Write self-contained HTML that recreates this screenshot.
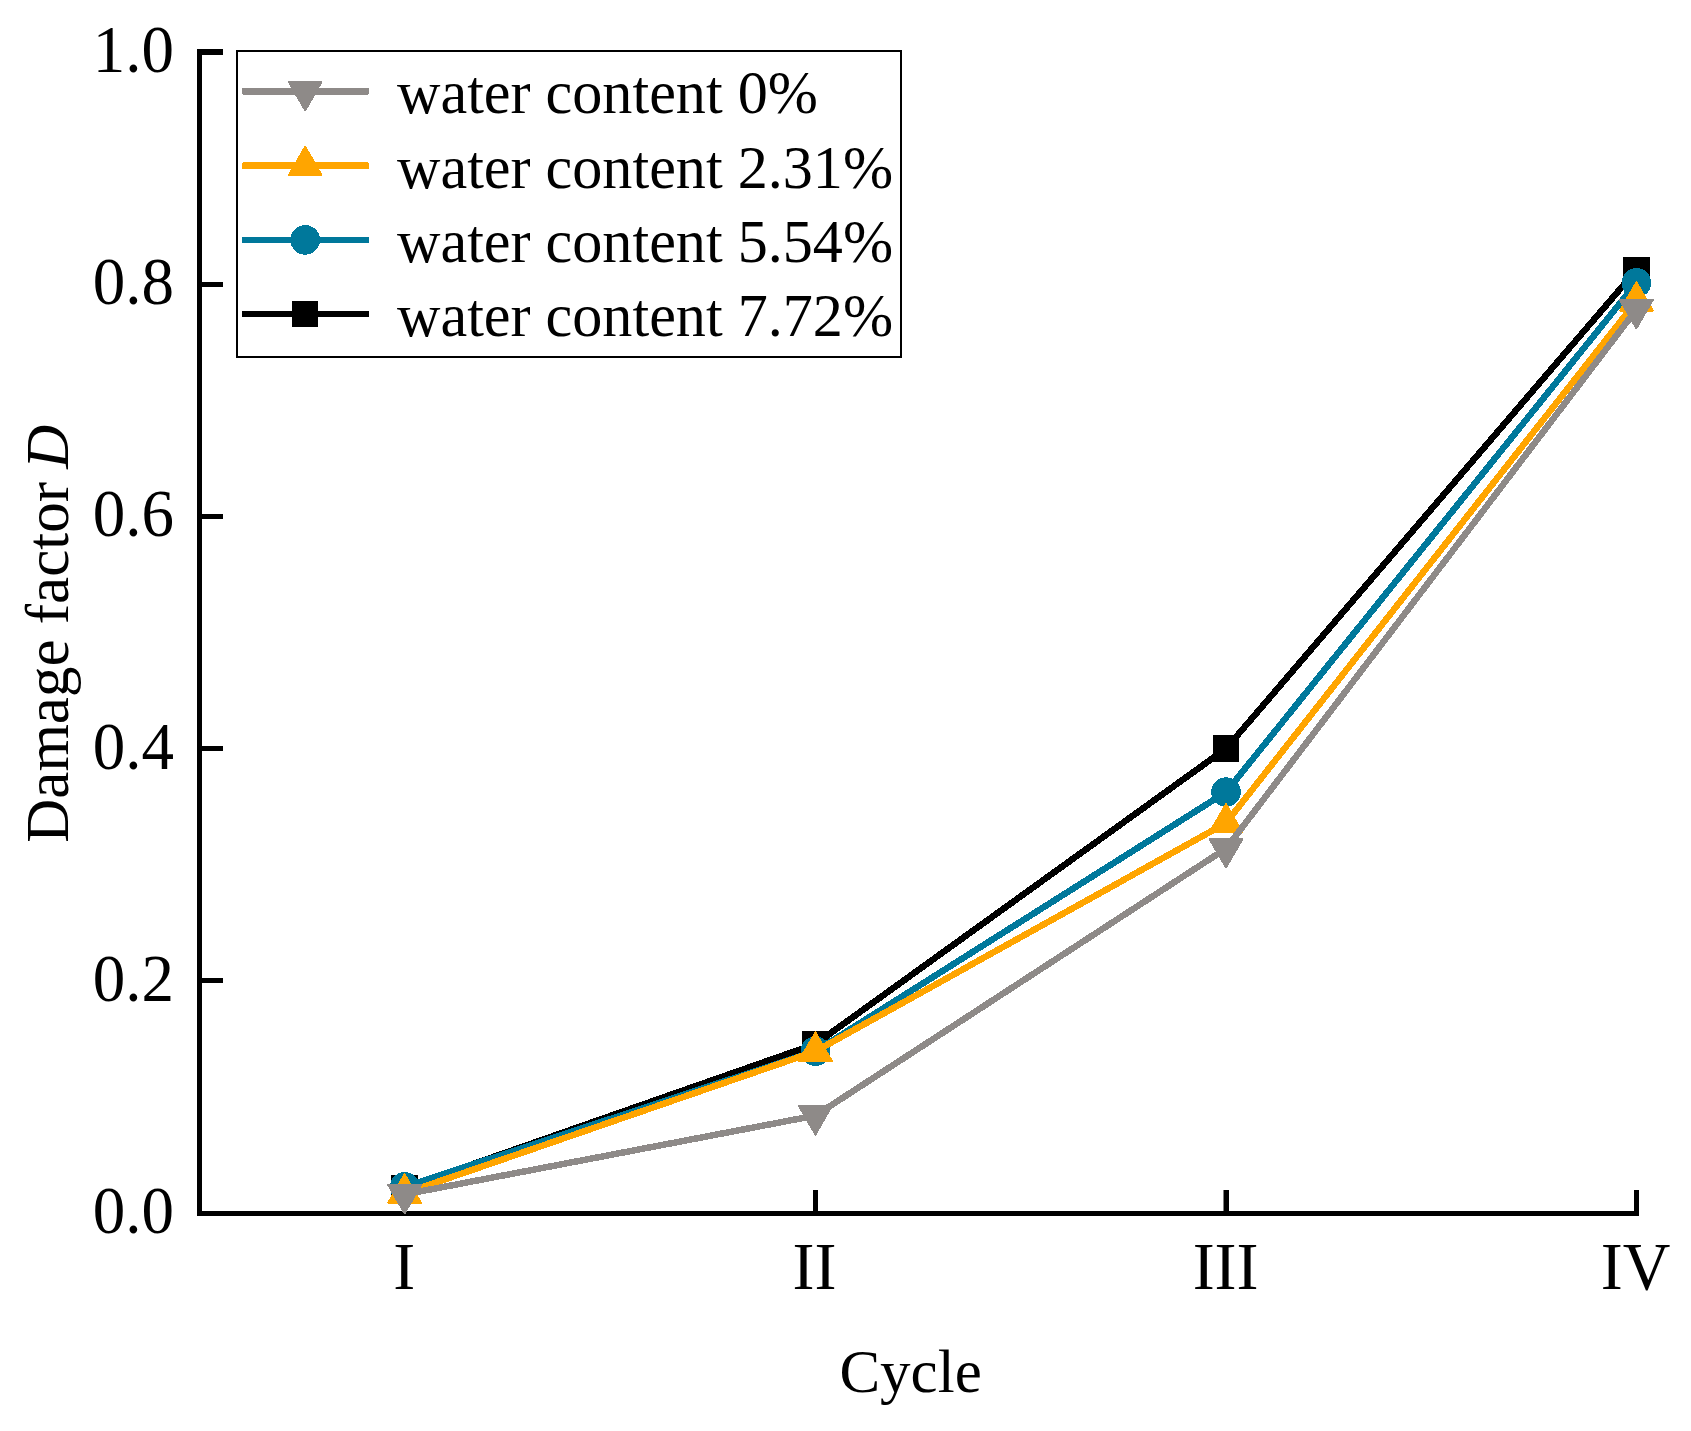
<!DOCTYPE html>
<html lang="en"><head><meta charset="utf-8"><title>Damage factor vs cycle</title>
<style>
html,body{margin:0;padding:0;background:#fff;}
body{width:1691px;height:1431px;overflow:hidden;}
svg{display:block;}
text{font-family:"Liberation Serif","Times New Roman",serif;fill:#000;}
.tick{font-size:66px;}
.leg{font-size:60px;}
.ttl{font-size:61px;}
</style></head><body>
<svg width="1691" height="1431" viewBox="0 0 1691 1431">
<rect width="1691" height="1431" fill="#fff"/>

<g fill="#000">
<rect x="197" y="49" width="5" height="1167"/>
<rect x="197" y="1211" width="1442" height="5"/>
<rect x="197" y="49" width="26" height="6"/>
<rect x="197" y="282" width="26" height="5"/>
<rect x="197" y="514" width="26" height="5"/>
<rect x="197" y="746" width="26" height="5"/>
<rect x="197" y="978" width="26" height="5"/>
<rect x="402" y="1190" width="5" height="26"/>
<rect x="813" y="1190" width="5" height="26"/>
<rect x="1223.5" y="1190" width="5.5" height="26"/>
<rect x="1634" y="1190" width="5" height="26"/>
</g>
<text class="tick" transform="translate(174.0,71.9) scale(0.985,1.04)" text-anchor="end">1.0</text>
<text class="tick" transform="translate(174.0,304.2) scale(0.985,1.04)" text-anchor="end">0.8</text>
<text class="tick" transform="translate(174.0,536.4) scale(0.985,1.04)" text-anchor="end">0.6</text>
<text class="tick" transform="translate(174.0,768.6) scale(0.985,1.04)" text-anchor="end">0.4</text>
<text class="tick" transform="translate(174.0,1000.8) scale(0.985,1.04)" text-anchor="end">0.2</text>
<text class="tick" transform="translate(174.0,1233.3) scale(0.985,1.04)" text-anchor="end">0.0</text>
<text class="tick" transform="translate(404.2,1289.0) scale(1,1.025)" text-anchor="middle">I</text>
<text class="tick" transform="translate(814.4,1289.0) scale(1,1.025)" text-anchor="middle">II</text>
<text class="tick" transform="translate(1225.6,1289.0) scale(1,1.025)" text-anchor="middle">III</text>
<text class="tick" transform="translate(1635.5,1289.0) scale(1,1.025)" text-anchor="middle">IV</text>
<text class="ttl" x="910.6" y="1391.8" text-anchor="middle">Cycle</text>
<text class="ttl" transform="translate(67.8,842.7) rotate(-90)">Damage factor <tspan font-style="italic" dx="-2">D</tspan></text>
<polyline points="404.6,1188.1 815.4,1044.1 1226.0,748.6 1636.4,270.0" fill="none" stroke="#000000" stroke-width="6.5" stroke-linejoin="round" shape-rendering="crispEdges"/>
<rect x="391.45" y="1174.95" width="26.3" height="26.3" fill="#000000" shape-rendering="crispEdges"/>
<rect x="802.25" y="1030.95" width="26.3" height="26.3" fill="#000000" shape-rendering="crispEdges"/>
<rect x="1212.85" y="735.45" width="26.3" height="26.3" fill="#000000" shape-rendering="crispEdges"/>
<rect x="1623.25" y="256.85" width="26.3" height="26.3" fill="#000000" shape-rendering="crispEdges"/>
<polyline points="404.6,1187.0 815.4,1051.2 1226.0,792.1 1636.4,282.9" fill="none" stroke="#00789B" stroke-width="6.5" stroke-linejoin="round" shape-rendering="crispEdges"/>
<circle cx="404.60" cy="1187.00" r="14.8" fill="#00789B" shape-rendering="crispEdges"/>
<circle cx="815.40" cy="1051.20" r="14.8" fill="#00789B" shape-rendering="crispEdges"/>
<circle cx="1226.00" cy="792.10" r="14.8" fill="#00789B" shape-rendering="crispEdges"/>
<circle cx="1636.40" cy="282.90" r="14.8" fill="#00789B" shape-rendering="crispEdges"/>
<polyline points="404.6,1193.3 815.4,1051.4 1226.0,823.0 1636.4,301.2" fill="none" stroke="#FFA500" stroke-width="6.5" stroke-linejoin="round" shape-rendering="crispEdges"/>
<polygon points="404.60,1174.42 388.25,1202.74 420.95,1202.74" fill="#FFA500" stroke="#FFA500" stroke-width="2" stroke-linejoin="round" shape-rendering="crispEdges"/>
<polygon points="815.40,1032.52 799.05,1060.84 831.75,1060.84" fill="#FFA500" stroke="#FFA500" stroke-width="2" stroke-linejoin="round" shape-rendering="crispEdges"/>
<polygon points="1226.00,804.12 1209.65,832.44 1242.35,832.44" fill="#FFA500" stroke="#FFA500" stroke-width="2" stroke-linejoin="round" shape-rendering="crispEdges"/>
<polygon points="1636.40,282.32 1620.05,310.64 1652.75,310.64" fill="#FFA500" stroke="#FFA500" stroke-width="2" stroke-linejoin="round" shape-rendering="crispEdges"/>
<polyline points="404.6,1194.4 815.4,1115.6 1226.0,848.6 1636.4,309.4" fill="none" stroke="#8E8A88" stroke-width="6.5" stroke-linejoin="round" shape-rendering="crispEdges"/>
<polygon points="404.60,1213.28 388.25,1184.96 420.95,1184.96" fill="#8E8A88" stroke="#8E8A88" stroke-width="2" stroke-linejoin="round" shape-rendering="crispEdges"/>
<polygon points="815.40,1134.48 799.05,1106.16 831.75,1106.16" fill="#8E8A88" stroke="#8E8A88" stroke-width="2" stroke-linejoin="round" shape-rendering="crispEdges"/>
<polygon points="1226.00,867.48 1209.65,839.16 1242.35,839.16" fill="#8E8A88" stroke="#8E8A88" stroke-width="2" stroke-linejoin="round" shape-rendering="crispEdges"/>
<polygon points="1636.40,328.28 1620.05,299.96 1652.75,299.96" fill="#8E8A88" stroke="#8E8A88" stroke-width="2" stroke-linejoin="round" shape-rendering="crispEdges"/>
<rect x="237" y="51" width="664" height="306" fill="#fff" stroke="#000" stroke-width="2"/>
<rect x="242" y="88.15" width="127" height="6.5" rx="1.5" fill="#8E8A88" shape-rendering="crispEdges"/>
<polygon points="305.20,110.28 288.85,81.96 321.55,81.96" fill="#8E8A88" stroke="#8E8A88" stroke-width="2" stroke-linejoin="round" shape-rendering="crispEdges"/>
<text class="leg" transform="translate(397,113.4) scale(1.0025,1.035)">water content 0%</text>
<rect x="242" y="162.45" width="127" height="6.5" rx="1.5" fill="#FFA500" shape-rendering="crispEdges"/>
<polygon points="305.20,146.82 288.85,175.14 321.55,175.14" fill="#FFA500" stroke="#FFA500" stroke-width="2" stroke-linejoin="round" shape-rendering="crispEdges"/>
<text class="leg" transform="translate(397,187.7) scale(1.0025,1.035)">water content 2.31%</text>
<rect x="242" y="236.65" width="127" height="6.5" rx="1.5" fill="#00789B" shape-rendering="crispEdges"/>
<circle cx="305.20" cy="239.90" r="14.8" fill="#00789B" shape-rendering="crispEdges"/>
<text class="leg" transform="translate(397,261.9) scale(1.0025,1.035)">water content 5.54%</text>
<rect x="242" y="310.95" width="127" height="6.5" rx="1.5" fill="#000000" shape-rendering="crispEdges"/>
<rect x="292.05" y="301.05" width="26.3" height="26.3" fill="#000000" shape-rendering="crispEdges"/>
<text class="leg" transform="translate(397,336.1) scale(1.0025,1.035)">water content 7.72%</text>
</svg></body></html>
